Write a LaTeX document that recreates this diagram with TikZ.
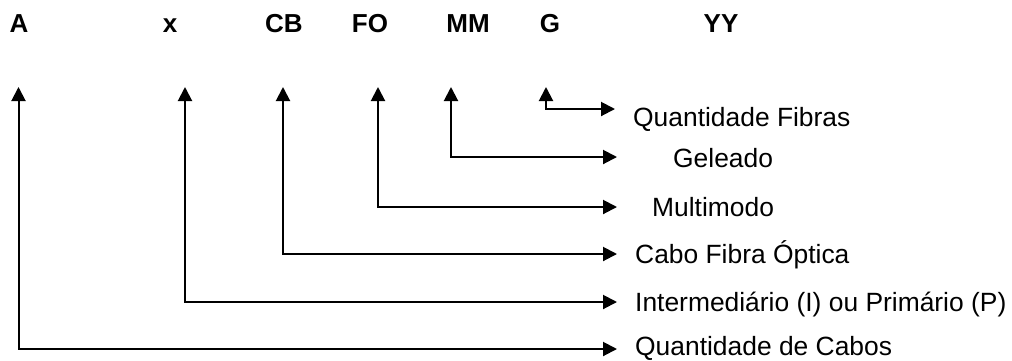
\documentclass[tikz,border=0pt]{standalone}
\usepackage{fontspec}
\setmainfont{Liberation Sans}
\usetikzlibrary{arrows.meta}
\begin{document}
\begin{tikzpicture}[x=1pt,y=-1pt,
  code/.style={font=\fontsize{26}{30}\selectfont\bfseries,inner sep=0pt,anchor=base},
  desc/.style={font=\fontsize{26.4}{30}\selectfont,inner sep=0pt,anchor=base west},
  conn/.style={line width=2pt,{Triangle[length=14pt,width=14pt]}-{Triangle[length=14pt,width=14pt]}}]
\useasboundingbox (0,0) rectangle (1012,360);
% top codes
\node[code] (cA)  at (19,32)  {A};
\node[code] (cx)  at (170,32) {x};
\node[code] (cCB) at (284,32) {CB};
\node[code] (cFO) at (370,32) {FO};
\node[code] (cMM) at (468,32) {MM};
\node[code] (cG)  at (550,32) {G};
\node[code] (cYY) at (721,32) {YY};
% descriptions
\node[desc] (dG)  at (633,126) {Quantidade Fibras};
\node[desc] (dMM) at (673,167) {Geleado};
\node[desc] (dFO) at (652,216) {Multimodo};
\node[desc] (dCB) at (635,263) {Cabo Fibra Óptica};
\node[desc] (dx)  at (635,311) {Intermediário (I) ou Primário (P)};
\node[desc] (dA)  at (635,355) {Quantidade de Cabos};
% arrow ends
\coordinate (tA)  at (18.5,87);
\coordinate (tx)  at (185,87);
\coordinate (tCB) at (283,87);
\coordinate (tFO) at (378,87);
\coordinate (tMM) at (451,87);
\coordinate (tG)  at (546,87);
\coordinate (eG)  at (615,109);
\coordinate (eMM) at (617,157);
\coordinate (eFO) at (617,207);
\coordinate (eCB) at (617,254);
\coordinate (ex)  at (617,302);
\coordinate (eA)  at (617,349);
\draw[conn] (tG)  |- (eG);
\draw[conn] (tMM) |- (eMM);
\draw[conn] (tFO) |- (eFO);
\draw[conn] (tCB) |- (eCB);
\draw[conn] (tx)  |- (ex);
\draw[conn] (tA)  |- (eA);
\end{tikzpicture}
\end{document}
